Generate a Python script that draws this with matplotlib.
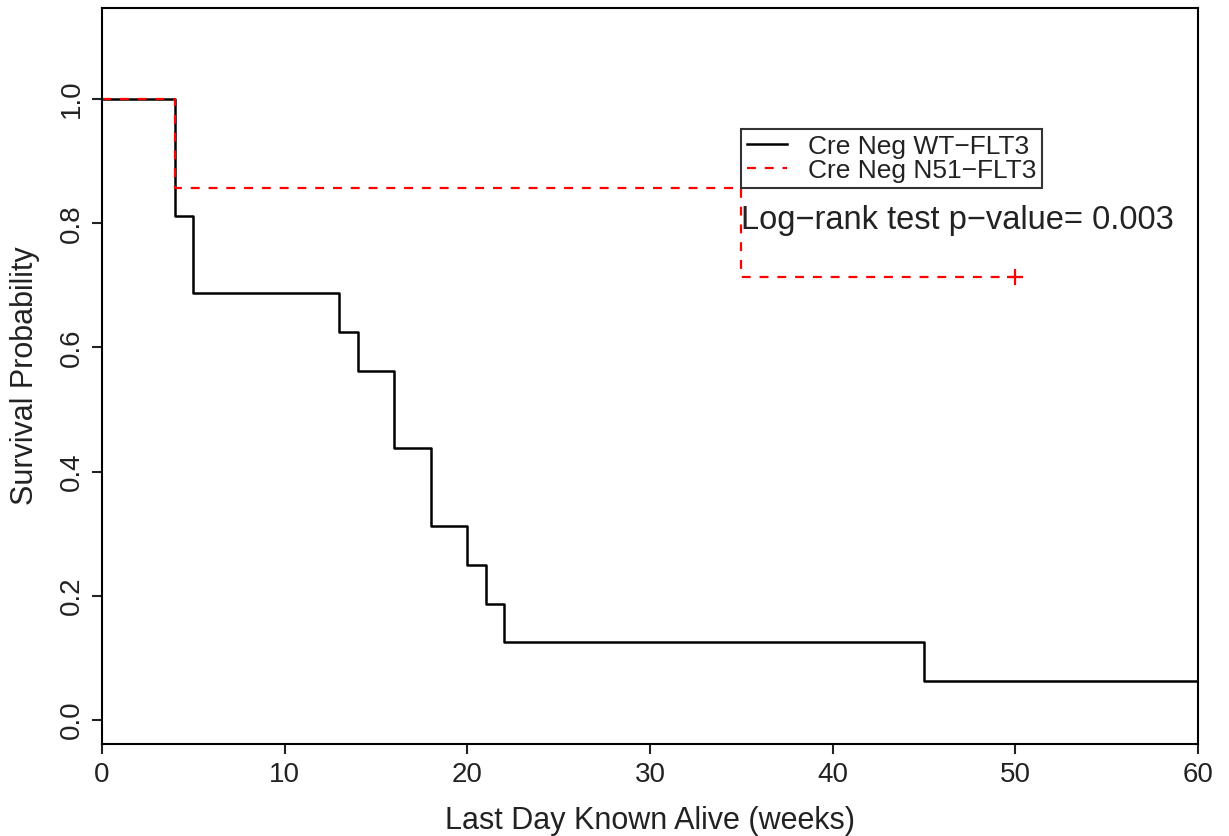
"""Kaplan-Meier survival curves for Cre Neg WT-FLT3 vs N51-FLT3 mice."""

import matplotlib

matplotlib.use("Agg")
import matplotlib.pyplot as plt

plt.rcParams["font.family"] = ["Liberation Sans", "DejaVu Sans"]

# survival step data (weeks, survival probability)
wt_weeks = [0, 4, 5, 13, 14, 16, 18, 20, 21, 22, 45, 60]
wt_surv = [1.0, 0.8125, 0.6875, 0.625, 0.5625, 0.4375, 0.3125, 0.25, 0.1875, 0.125, 0.0625, 0.0625]

n51_weeks = [0, 4, 35, 50]
n51_surv = [1.0, 0.857, 0.714, 0.714]

# censored observation
censor_weeks = [50]
censor_surv = [0.714]

labels = ["Cre Neg WT\u2212FLT3", "Cre Neg N51\u2212FLT3"]
p_text = "Log\u2212rank test p\u2212value= 0.003"
x_ticks = [0, 10, 20, 30, 40, 50, 60]
y_ticks = [0.0, 0.2, 0.4, 0.6, 0.8, 1.0]

Y_LOW, Y_HIGH = -0.0386, 1.1466


def main() -> None:
    fig = plt.figure(figsize=(12.29, 8.36), dpi=100)
    ax = fig.add_axes([0.083, 0.110, 0.8918, 0.8804])

    ax.step(wt_weeks, wt_surv, where="post", color="black", lw=1.8, label=labels[0])
    ax.step(n51_weeks, n51_surv, where="post", color="red", lw=1.6,
            linestyle=(0, (4, 4)), label=labels[1])
    ax.plot(censor_weeks, censor_surv, marker="+", color="red", ms=12, mew=1.6,
            linestyle="none")

    ax.set_xlim(0, 60)
    ax.set_ylim(Y_LOW, Y_HIGH)
    ax.set_xticks(x_ticks)
    ax.set_yticks(y_ticks)
    ax.set_xticklabels([str(t) for t in x_ticks])
    ax.set_yticklabels([f"{t:.1f}" for t in y_ticks], rotation=90, va="center")
    ax.tick_params(direction="out", length=7, width=1.5, labelsize=20, pad=6,
                   colors="#222222")
    ax.tick_params(axis="y", pad=5)
    for spine in ax.spines.values():
        spine.set_linewidth(1.5)
        spine.set_color("black")

    ax.set_xlabel("Last Day Known Alive (weeks)", fontsize=22, color="#222222", labelpad=13)
    ax.set_ylabel("Survival Probability", fontsize=22, color="#222222")
    ax.yaxis.set_label_coords(-0.0566, 0.5)

    leg = ax.legend(loc="upper left",
                    bbox_to_anchor=(35 / 60, (0.952 - Y_LOW) / (Y_HIGH - Y_LOW)),
                    fontsize=19, frameon=True, fancybox=False, edgecolor="black",
                    handlelength=1.5, handletextpad=0.8, borderpad=0.22,
                    labelspacing=0.0, borderaxespad=0)
    leg.get_frame().set_linewidth(1.5)
    for txt in leg.get_texts():
        txt.set_color("#222222")

    ax.text(35, 0.805, p_text, fontsize=23.5, ha="left", va="center", color="#222222")

    fig.savefig("out.png", dpi=100)


if __name__ == "__main__":
    main()
